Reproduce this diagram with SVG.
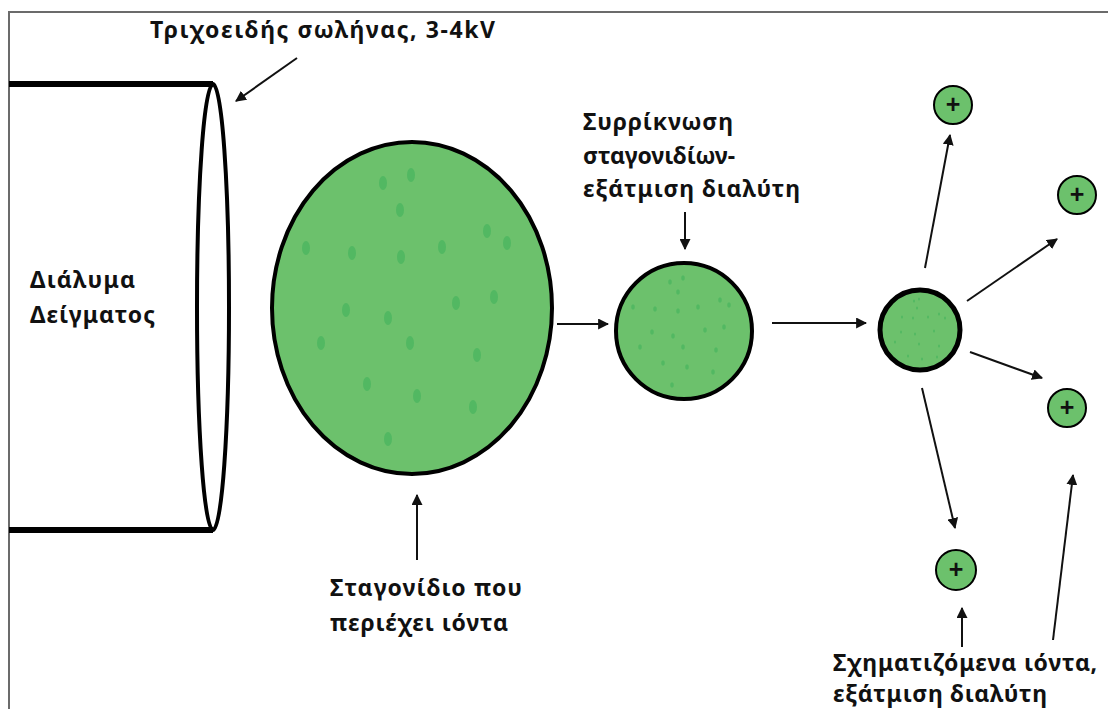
<svg xmlns="http://www.w3.org/2000/svg" width="1108" height="709" viewBox="0 0 1108 709">
  <style>
    .lbl { font-family: "Noto Sans", "Open Sans", "DejaVu Sans", sans-serif; font-weight: bold; font-size: 23px; fill: #111; }
    .plus { font-family: "Liberation Sans", "DejaVu Sans", sans-serif; font-weight: bold; font-size: 25px; fill: #111; text-anchor: middle; }
    .outline { fill: none; stroke: #000; }
    .drop { fill: #6cc16c; stroke: #000; }
    .spot { fill: #52b862; }
    .conn { stroke: #111; stroke-width: 2; fill: none; marker-end: url(#head); }
  </style>
  <defs>
    <marker id="head" viewBox="0 0 10 10" refX="9" refY="5" markerWidth="5.5" markerHeight="5.5" markerUnits="strokeWidth" orient="auto">
      <path d="M0,0 L10,5 L0,10 z" fill="#111"/>
    </marker>
  </defs>

  <rect width="1108" height="709" fill="#fff"/>
  <!-- frame -->
  <path d="M9,709 V12 H1108" fill="none" stroke="#6b6b6b" stroke-width="2"/>

  <!-- capillary tube -->
  <g id="capillary">
    <path d="M9,84 H213 M9,530 H213" class="outline" stroke-width="6"/>
    <ellipse cx="213" cy="307" rx="16" ry="223" class="outline" stroke-width="4"/>
  </g>

  <!-- large droplet -->
  <g id="droplet-large">
    <ellipse cx="412" cy="308" rx="140" ry="166" class="drop" stroke-width="4"/>
    <g class="spot">
      <ellipse cx="383" cy="183" rx="4" ry="7"/>
      <ellipse cx="411" cy="175" rx="4" ry="7"/>
      <ellipse cx="400" cy="210" rx="4" ry="7"/>
      <ellipse cx="306" cy="248" rx="4" ry="7"/>
      <ellipse cx="352" cy="253" rx="4" ry="7"/>
      <ellipse cx="401" cy="257" rx="4" ry="7"/>
      <ellipse cx="442" cy="247" rx="4" ry="7"/>
      <ellipse cx="487" cy="231" rx="4" ry="7"/>
      <ellipse cx="507" cy="243" rx="4" ry="7"/>
      <ellipse cx="346" cy="310" rx="4" ry="7"/>
      <ellipse cx="388" cy="318" rx="4" ry="7"/>
      <ellipse cx="456" cy="303" rx="4" ry="7"/>
      <ellipse cx="494" cy="297" rx="4" ry="7"/>
      <ellipse cx="321" cy="343" rx="4" ry="7"/>
      <ellipse cx="410" cy="343" rx="4" ry="7"/>
      <ellipse cx="477" cy="355" rx="4" ry="7"/>
      <ellipse cx="367" cy="384" rx="4" ry="7"/>
      <ellipse cx="417" cy="396" rx="4" ry="7"/>
      <ellipse cx="473" cy="407" rx="4" ry="7"/>
      <ellipse cx="388" cy="439" rx="4" ry="7"/>
    </g>
  </g>

  <!-- shrinking droplet -->
  <g id="droplet-medium">
    <circle cx="684" cy="331" r="68" class="drop" stroke-width="4"/>
    <g class="spot">
      <ellipse cx="670" cy="282" rx="1.8" ry="2.8"/>
      <ellipse cx="683" cy="278" rx="1.8" ry="2.8"/>
      <ellipse cx="678" cy="292" rx="1.8" ry="2.8"/>
      <ellipse cx="633" cy="307" rx="1.8" ry="2.8"/>
      <ellipse cx="655" cy="309" rx="1.8" ry="2.8"/>
      <ellipse cx="678" cy="311" rx="1.8" ry="2.8"/>
      <ellipse cx="698" cy="307" rx="1.8" ry="2.8"/>
      <ellipse cx="720" cy="300" rx="1.8" ry="2.8"/>
      <ellipse cx="729" cy="305" rx="1.8" ry="2.8"/>
      <ellipse cx="652" cy="332" rx="1.8" ry="2.8"/>
      <ellipse cx="673" cy="336" rx="1.8" ry="2.8"/>
      <ellipse cx="705" cy="330" rx="1.8" ry="2.8"/>
      <ellipse cx="724" cy="327" rx="1.8" ry="2.8"/>
      <ellipse cx="640" cy="347" rx="1.8" ry="2.8"/>
      <ellipse cx="683" cy="347" rx="1.8" ry="2.8"/>
      <ellipse cx="716" cy="350" rx="1.8" ry="2.8"/>
      <ellipse cx="663" cy="363" rx="1.8" ry="2.8"/>
      <ellipse cx="687" cy="367" rx="1.8" ry="2.8"/>
      <ellipse cx="713" cy="372" rx="1.8" ry="2.8"/>
      <ellipse cx="672" cy="385" rx="1.8" ry="2.8"/>
    </g>
  </g>

  <!-- smallest droplet before ion release -->
  <g id="droplet-small">
    <circle cx="920" cy="330" r="40" class="drop" stroke-width="5"/>
    <g class="spot">
      <ellipse cx="914" cy="301" rx="1" ry="1.6"/>
      <ellipse cx="919" cy="299" rx="1" ry="1.6"/>
      <ellipse cx="917" cy="308" rx="1" ry="1.6"/>
      <ellipse cx="902" cy="317" rx="1" ry="1.6"/>
      <ellipse cx="913" cy="318" rx="1" ry="1.6"/>
      <ellipse cx="928" cy="317" rx="1" ry="1.6"/>
      <ellipse cx="939" cy="314" rx="1" ry="1.6"/>
      <ellipse cx="945" cy="318" rx="1" ry="1.6"/>
      <ellipse cx="901" cy="332" rx="1" ry="1.6"/>
      <ellipse cx="915" cy="334" rx="1" ry="1.6"/>
      <ellipse cx="934" cy="331" rx="1" ry="1.6"/>
      <ellipse cx="895" cy="342" rx="1" ry="1.6"/>
      <ellipse cx="919" cy="344" rx="1" ry="1.6"/>
      <ellipse cx="939" cy="346" rx="1" ry="1.6"/>
      <ellipse cx="908" cy="356" rx="1" ry="1.6"/>
      <ellipse cx="922" cy="359" rx="1" ry="1.6"/>
      <ellipse cx="937" cy="357" rx="1" ry="1.6"/>
    </g>
  </g>

  <!-- released ions -->
  <g id="ion-1">
    <circle cx="953" cy="105" r="19" class="drop" stroke-width="2"/>
    <text x="953" y="113" class="plus">+</text>
  </g>
  <g id="ion-2">
    <circle cx="1077" cy="195" r="19" class="drop" stroke-width="2"/>
    <text x="1077" y="203" class="plus">+</text>
  </g>
  <g id="ion-3">
    <circle cx="1067" cy="408" r="19" class="drop" stroke-width="2"/>
    <text x="1067" y="416" class="plus">+</text>
  </g>
  <g id="ion-4">
    <circle cx="956" cy="570" r="20" class="drop" stroke-width="2"/>
    <text x="956" y="578" class="plus">+</text>
  </g>

  <!-- labels -->
  <g id="label-capillary">
    <text x="150" y="38" class="lbl" textLength="345">Τριχοειδής σωλήνας, 3-4kV</text>
  </g>
  <g id="label-sample">
    <text class="lbl"><tspan x="30" y="288" textLength="105">Διάλυμα</tspan><tspan x="30" y="323" textLength="125">Δείγματος</tspan></text>
  </g>
  <g id="label-shrink">
    <text class="lbl"><tspan x="583" y="130" textLength="150">Συρρίκνωση</tspan><tspan x="583" y="164" textLength="152">σταγονιδίων-</tspan><tspan x="583" y="197" textLength="217">εξάτμιση διαλύτη</tspan></text>
  </g>
  <g id="label-droplet">
    <text class="lbl"><tspan x="330" y="596" textLength="192">Σταγονίδιο που</tspan><tspan x="330" y="631" textLength="178">περιέχει ιόντα</tspan></text>
  </g>
  <g id="label-ions">
    <text class="lbl"><tspan x="833" y="671" textLength="264">Σχηματιζόμενα ιόντα,</tspan><tspan x="833" y="702" textLength="214">εξάτμιση διαλύτη</tspan></text>
  </g>

  <!-- connectors -->
  <g id="connectors">
    <path class="conn" d="M297,58 L236,101"/>
    <path class="conn" d="M557,324 L608,324"/>
    <path class="conn" d="M685,212 L685,249"/>
    <path class="conn" d="M772,323 L866,323"/>
    <path class="conn" d="M417,560 L417,495"/>
    <path class="conn" d="M925,268 L950,135"/>
    <path class="conn" d="M967,301 L1057,239"/>
    <path class="conn" d="M970,352 L1042,378"/>
    <path class="conn" d="M922,388 L955,528"/>
    <path class="conn" d="M962,647 L962,608"/>
    <path class="conn" d="M1053,640 L1073,475"/>
  </g>
</svg>
